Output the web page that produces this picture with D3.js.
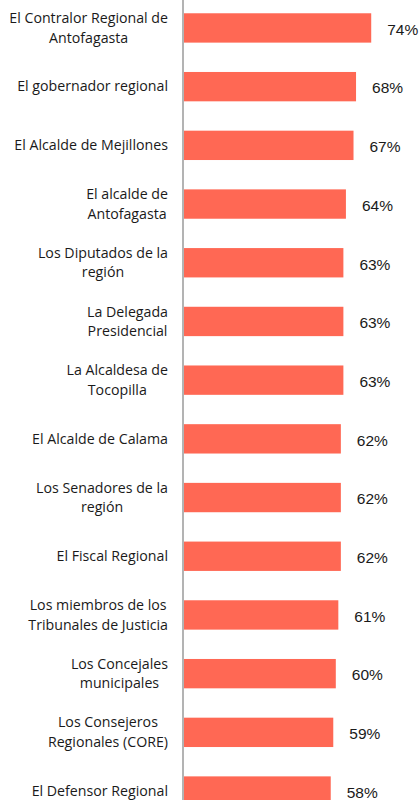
<!DOCTYPE html>
<html>
<head>
<meta charset="utf-8">
<script src="https://cdn.jsdelivr.net/npm/d3@7"></script>
<style>
  html, body { margin: 0; padding: 0; background: #ffffff; }
  svg { display: block; }
</style>
</head>
<body>
<svg id="chart" width="420" height="800"></svg>
<script>
// ---- data ----
const categories = [
  "El Contralor Regional de\nAntofagasta",
  "El gobernador regional",
  "El Alcalde de Mejillones",
  "El alcalde de\nAntofagasta",
  "Los Diputados de la\nregión",
  "La Delegada\nPresidencial",
  "La Alcaldesa de\nTocopilla",
  "El Alcalde de Calama",
  "Los Senadores de la\nregión",
  "El Fiscal Regional",
  "Los miembros de los\nTribunales de Justicia",
  "Los Concejales\nmunicipales",
  "Los Consejeros\nRegionales (CORE)",
  "El Defensor Regional"
];
const values = [74, 68, 67, 64, 63, 63, 63, 62, 62, 62, 61, 60, 59, 58];
const valueLabels = ["74%", "68%", "67%", "64%", "63%", "63%", "63%", "62%", "62%", "62%", "61%", "60%", "59%", "58%"];

// ---- layout ----
const W = 420, H = 800;
const axisX = 183;
const labelRight = 168;
const FONT = "'Open Sans', 'Noto Sans', sans-serif";
const VFONT = "'Liberation Sans', Arial, sans-serif";
const barColor = "#ff6854";

const svg = d3.select("#chart");

const x = d3.scaleLinear().domain([0, 100]).range([axisX + 1, axisX + 1 + 253]);
const y = d3.scaleBand()
  .domain(d3.range(categories.length))
  .range([-1.4, -1.4 + 14 * 58.7])
  .paddingInner(0.5)
  .paddingOuter(0.25);

// bars
svg.append("g").selectAll("rect")
  .data(values)
  .join("rect")
  .attr("x", x(0))
  .attr("y", (d, i) => y(i))
  .attr("width", d => x(d) - x(0))
  .attr("height", y.bandwidth())
  .attr("fill", barColor);

// axis line
svg.append("line")
  .attr("x1", axisX).attr("x2", axisX)
  .attr("y1", 0).attr("y2", H)
  .attr("stroke", "#b3b3b3")
  .attr("stroke-width", 2);

// category labels
const lab = svg.append("g").attr("font-family", FONT).attr("font-size", 14.2).attr("fill", "#1a1a1a");
categories.forEach((c, i) => {
  const lines = c.split("\n");
  const cy = y(i) + y.bandwidth() / 2;
  const t = lab.append("text").attr("text-anchor", "middle");
  const lh = 19.5;
  lines.forEach((ln, j) => {
    t.append("tspan")
      .attr("y", cy + 4.8 + (j - (lines.length - 1) / 2) * lh)
      .text(ln);
  });
  let maxW = 0;
  t.selectAll("tspan").each(function () { maxW = Math.max(maxW, this.getComputedTextLength()); });
  const cx = labelRight - maxW / 2;
  t.selectAll("tspan").attr("x", cx);
});

// value labels
svg.append("g").attr("font-family", VFONT).attr("font-size", 15.5).attr("fill", "#1a1a1a")
  .selectAll("text")
  .data(values)
  .join("text")
  .attr("x", d => x(d) + 16)
  .attr("y", (d, i) => y(i) + y.bandwidth() / 2 + 6.8)
  .text((d, i) => valueLabels[i]);
</script>
</body>
</html>
